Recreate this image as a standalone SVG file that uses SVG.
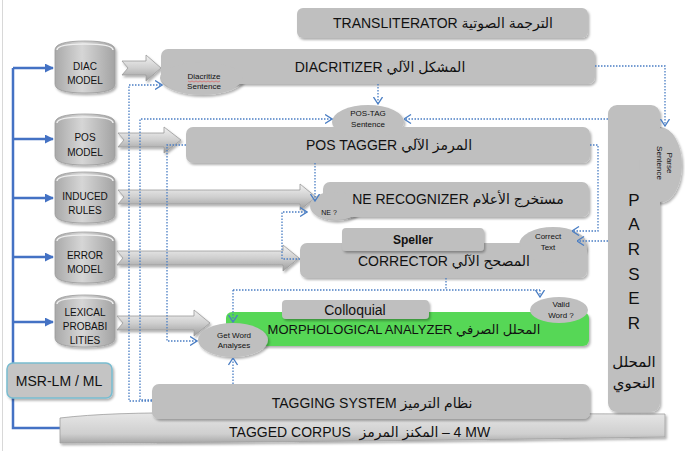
<svg xmlns="http://www.w3.org/2000/svg" width="685" height="451" viewBox="0 0 685 451">
<defs>
<style>
.box{fill:#bfbfbf;filter:url(#sh)}
.t{font-family:"Liberation Sans","DejaVu Sans",sans-serif;fill:#111;text-anchor:middle}
.big{font-size:14px}
.sm{font-size:8px}
.cyl{font-size:10px}
.dot{fill:none;stroke:#4a7ec4;stroke-width:1.3;stroke-dasharray:1.5 1.5}
.blue{fill:none;stroke:#4472c4;stroke-width:2.5}
.barrow{fill:url(#ag);stroke:#9a9a9a;stroke-width:0.8;filter:url(#sh)}
</style>
<filter id="sh" x="-10%" y="-10%" width="120%" height="130%">
<feDropShadow dx="1.5" dy="2" stdDeviation="1.2" flood-color="#000" flood-opacity="0.3"/>
</filter>
<linearGradient id="ag" x1="0" y1="0" x2="0" y2="1">
<stop offset="0" stop-color="#f2f2f2"/>
<stop offset="0.5" stop-color="#cfcfcf"/>
<stop offset="1" stop-color="#9c9c9c"/>
</linearGradient>
<linearGradient id="cg" x1="0" y1="0" x2="1" y2="0">
<stop offset="0" stop-color="#a9a9a9"/>
<stop offset="0.45" stop-color="#d6d6d6"/>
<stop offset="1" stop-color="#a3a3a3"/>
</linearGradient>
<linearGradient id="corp" x1="0" y1="0" x2="0" y2="1">
<stop offset="0" stop-color="#e6e6e6"/>
<stop offset="0.7" stop-color="#cfcfcf"/>
<stop offset="1" stop-color="#a8a8a8"/>
</linearGradient>
<marker id="open" viewBox="0 0 8 10" refX="7.5" refY="5" markerWidth="8" markerHeight="10" markerUnits="userSpaceOnUse" orient="auto">
<path d="M0.5,0.5 L7.5,5 L0.5,9.5" fill="none" stroke="#4a7ec4" stroke-width="1.3"/>
</marker>
<marker id="solid" viewBox="0 0 10 10" refX="9" refY="5" markerWidth="9" markerHeight="9" markerUnits="userSpaceOnUse" orient="auto">
<path d="M0,0 L10,5 L0,10 Z" fill="#4472c4"/>
</marker>
</defs>

<rect x="0" y="0" width="685" height="451" fill="#fff"/>
<line x1="2.5" y1="0" x2="2.5" y2="451" stroke="#d8d8d8" stroke-width="1"/>

<!-- blue solid backbone -->
<g id="backbone">
<path class="blue" d="M13,68 L13,428 L62,428"/>
<path class="blue" d="M13,68 L53,68" marker-end="url(#solid)"/>
<path class="blue" d="M13,139 L53,139" marker-end="url(#solid)"/>
<path class="blue" d="M13,198 L53,198" marker-end="url(#solid)"/>
<path class="blue" d="M13,257 L53,257" marker-end="url(#solid)"/>
<path class="blue" d="M13,322 L53,322" marker-end="url(#solid)"/>
</g>

<!-- Tagged corpus -->
<g id="corpus">
<path d="M60,418 Q110,412 200,413 L665,414 L665,437 Q360,442 60,443 Z" fill="url(#corp)" stroke="#a0a0a0" stroke-width="0.8" filter="url(#sh)"/>
<text class="t big" x="290" y="437">TAGGED CORPUS</text>
<text class="t big" x="399" y="437" direction="rtl">المكنز المرمز</text>
<text class="t big" x="466" y="437">– 4 MW</text>
</g>

<!-- cylinders -->
<g id="diac-model">
<path d="M55,50 Q55,41 85,41 Q115,41 115,50 L115,84 Q115,93 85,93 Q55,93 55,84 Z" fill="url(#cg)" stroke="#9a9a9a" stroke-width="0.8" filter="url(#sh)"/>
<path d="M57,50 Q57,44 85,44 Q113,44 113,50" fill="none" stroke="#eeeeee" stroke-width="1.5"/>
<text class="t cyl" x="85" y="70">DIAC</text>
<text class="t cyl" x="85" y="84">MODEL</text>
</g>
<g id="pos-model">
<path d="M55,123 Q55,114 85,114 Q115,114 115,123 L115,156 Q115,165 85,165 Q55,165 55,156 Z" fill="url(#cg)" stroke="#9a9a9a" stroke-width="0.8" filter="url(#sh)"/>
<path d="M57,123 Q57,117 85,117 Q113,117 113,123" fill="none" stroke="#eeeeee" stroke-width="1.5"/>
<text class="t cyl" x="85" y="141">POS</text>
<text class="t cyl" x="85" y="156">MODEL</text>
</g>
<g id="induced-rules">
<path d="M55,181 Q55,172 85,172 Q115,172 115,181 L115,214 Q115,223 85,223 Q55,223 55,214 Z" fill="url(#cg)" stroke="#9a9a9a" stroke-width="0.8" filter="url(#sh)"/>
<path d="M57,181 Q57,175 85,175 Q113,175 113,181" fill="none" stroke="#eeeeee" stroke-width="1.5"/>
<text class="t cyl" x="85" y="200">INDUCED</text>
<text class="t cyl" x="85" y="214">RULES</text>
</g>
<g id="error-model">
<path d="M55,241 Q55,232 85,232 Q115,232 115,241 L115,274 Q115,283 85,283 Q55,283 55,274 Z" fill="url(#cg)" stroke="#9a9a9a" stroke-width="0.8" filter="url(#sh)"/>
<path d="M57,241 Q57,235 85,235 Q113,235 113,241" fill="none" stroke="#eeeeee" stroke-width="1.5"/>
<text class="t cyl" x="85" y="259">ERROR</text>
<text class="t cyl" x="85" y="273">MODEL</text>
</g>
<g id="lexical">
<path d="M55,304 Q55,295 85,295 Q115,295 115,304 L115,338 Q115,347 85,347 Q55,347 55,338 Z" fill="url(#cg)" stroke="#9a9a9a" stroke-width="0.8" filter="url(#sh)"/>
<path d="M57,304 Q57,298 85,298 Q113,298 113,304" fill="none" stroke="#eeeeee" stroke-width="1.5"/>
<text class="t cyl" x="85" y="316">LEXICAL</text>
<text class="t cyl" x="85" y="330">PROBABI</text>
<text class="t cyl" x="85" y="344">LITIES</text>
</g>

<!-- MSR box -->
<g id="msr">
<rect x="7" y="363" width="105" height="35" rx="6" fill="#c4c4c4" stroke="#78bcd0" stroke-width="1.5" filter="url(#sh)"/>
<text class="t big" x="59" y="386">MSR-LM / ML</text>
</g>

<!-- block arrows -->
<g id="block-arrows">
<path class="barrow" d="M122,61 L146,61 L146,55 L161,68 L146,81 L146,75 L122,75 L128,68 Z"/>
<path class="barrow" d="M118,133 L164,133 L164,127 L181,140 L164,153 L164,147 L118,147 L124,140 Z"/>
<path class="barrow" d="M118,190 L300,190 L300,184 L316,197 L300,210 L300,204 L118,204 L124,197 Z"/>
<path class="barrow" d="M117,251 L283,251 L283,245 L299,258 L283,271 L283,265 L117,265 L123,258 Z"/>
<path class="barrow" d="M117,316 L194,316 L194,310 L210,323 L194,336 L194,330 L117,330 L123,323 Z"/>
</g>

<!-- Transliterator -->
<g id="transliterator">
<rect class="box" x="297" y="8" width="291" height="30" rx="6"/>
<text class="t big" x="443" y="28">TRANSLITERATOR الترجمة الصوتية</text>
</g>

<!-- Diacritizer -->
<g id="diacritizer">
<ellipse cx="202" cy="78" rx="42" ry="17" fill="#bfbfbf" filter="url(#sh)"/>
<rect class="box" x="161" y="49" width="434" height="35" rx="7"/>
<ellipse cx="202" cy="78" rx="41" ry="16" fill="#bfbfbf"/>
<text class="t big" x="380" y="72">DIACRITIZER المشكل الآلي</text>
<text class="t sm" x="204" y="79">Diacritize</text>
<path d="M188,81 L190,82 L192,81 L194,82 L196,81 L198,82 L200,81 L202,82 L204,81 L206,82 L208,81 L210,82 L212,81 L214,82 L216,81 L218,82 L220,81" fill="none" stroke="#e05050" stroke-width="0.6"/>
<text class="t sm" x="204" y="89">Sentence</text>
</g>

<!-- POS tagger -->
<g id="pos-tagger">
<ellipse cx="368" cy="122" rx="36" ry="17" fill="#bfbfbf" filter="url(#sh)"/>
<rect class="box" x="186" y="127" width="404" height="36" rx="7"/>
<ellipse cx="368" cy="123" rx="35" ry="15" fill="#bfbfbf"/>
<text class="t sm" x="368" y="116">POS-TAG</text>
<text class="t sm" x="368" y="127">Sentence</text>
<text class="t big" x="389" y="150">POS TAGGER المرمز الآلي</text>
</g>

<!-- NE recognizer -->
<g id="ne-recognizer">
<ellipse cx="336" cy="206" rx="26" ry="15" fill="#bfbfbf" filter="url(#sh)"/>
<rect class="box" x="323" y="182" width="266" height="35" rx="7"/>
<ellipse cx="336" cy="206" rx="25" ry="14" fill="#bfbfbf"/>
<text class="t big" x="458" y="204">NE RECOGNIZER مستخرج الأعلام</text>
<text class="t" x="329" y="215" style="font-size:7px">NE ?</text>
</g>

<!-- Corrector -->
<g id="corrector">
<ellipse cx="553" cy="245" rx="34" ry="18" fill="#bfbfbf" filter="url(#sh)"/>
<rect class="box" x="300" y="243" width="287" height="35" rx="7"/>
<ellipse cx="553" cy="246" rx="33" ry="17" fill="#bfbfbf"/>
<text class="t sm" x="548" y="239">Correct</text>
<text class="t sm" x="548" y="250">Text</text>
<text class="t big" x="444" y="266">CORRECTOR المصحح الآلي</text>
</g>
<g id="speller">
<rect class="box" x="342" y="228" width="142" height="23" rx="4"/>
<text class="t" x="413" y="244" style="font-size:12px;font-weight:bold">Speller</text>
</g>

<!-- Morphological analyzer -->
<g id="morph">
<rect x="226" y="312" width="363" height="34" rx="6" fill="#57d757" filter="url(#sh)"/>
<text class="t" x="404" y="334" style="font-size:13px">MORPHOLOGICAL ANALYZER المحلل الصرفي</text>
</g>
<g id="colloquial">
<rect class="box" x="282" y="300" width="147" height="19" rx="4"/>
<text class="t" x="355" y="315" style="font-size:14px">Colloquial</text>
</g>
<g id="valid-word">
<ellipse cx="559" cy="310" rx="29" ry="13" fill="#bfbfbf"/>
<text class="t sm" x="561" y="307">Valid</text>
<text class="t sm" x="561" y="318">Word ?</text>
</g>
<g id="get-word">
<ellipse cx="233" cy="340" rx="35" ry="17" fill="#bfbfbf" filter="url(#sh)"/>
<text class="t sm" x="234" y="338">Get Word</text>
<text class="t sm" x="234" y="348">Analyses</text>
</g>

<!-- Tagging system -->
<g id="tagging-system">
<rect class="box" x="152" y="384" width="438" height="35" rx="7"/>
<text class="t big" x="372" y="408">TAGGING SYSTEM نظام الترميز</text>
</g>

<!-- Parser -->
<g id="parser">
<ellipse cx="660" cy="165" rx="22" ry="38" fill="#bfbfbf" filter="url(#sh)"/>
<rect class="box" x="608" y="105" width="52" height="307" rx="9"/>
<ellipse cx="660" cy="165" rx="21" ry="37" fill="#bfbfbf"/>
<rect x="640" y="130" width="20" height="70" fill="#bfbfbf"/>
<text class="t" transform="translate(667,163) rotate(90)" style="font-size:8px">Parse</text>
<text class="t" transform="translate(657,163) rotate(90)" style="font-size:8px">Sentence</text>
<g class="t" style="font-size:17px">
<text x="634" y="206">P</text>
<text x="634" y="230">A</text>
<text x="634" y="255">R</text>
<text x="634" y="280">S</text>
<text x="634" y="304">E</text>
<text x="634" y="329">R</text>
</g>
<text class="t" x="634" y="367" style="font-size:15px">المحلل</text>
<text class="t" x="634" y="388" style="font-size:15px">النحوي</text>
</g>

<!-- dotted connectors -->
<g id="connectors">
<path class="dot" d="M152,401 L129,401 L129,85 L162,85" marker-end="url(#open)"/>
<path class="dot" d="M152,400 L140,400 L140,119 L332,119" marker-end="url(#open)"/>
<path class="dot" d="M186,145 L167,145 L167,341 L197,341" marker-end="url(#open)"/>
<path class="dot" d="M315,163 L315,201" marker-end="url(#open)"/>
<path class="dot" d="M300,259 L282,259 L282,212 L307,212" marker-end="url(#open)"/>
<path class="dot" d="M446,278 L446,290"/>
<path class="dot" d="M233,290 L540,290"/>
<path class="dot" d="M233,290 L233,322" marker-end="url(#open)"/>
<path class="dot" d="M540,290 L540,297" marker-end="url(#open)"/>
<path class="dot" d="M233,384 L233,358" marker-end="url(#open)"/>
<path class="dot" d="M595,66 L665,66 L665,126" marker-end="url(#open)"/>
<path class="dot" d="M378,84 L378,104" marker-end="url(#open)"/>
<path class="dot" d="M608,119 L404,119" marker-end="url(#open)"/>
<path class="dot" d="M590,145 L598,145 L598,231 L572,231" marker-end="url(#open)"/>
<path class="dot" d="M608,241 L577,241" marker-end="url(#open)"/>
</g>
</svg>
